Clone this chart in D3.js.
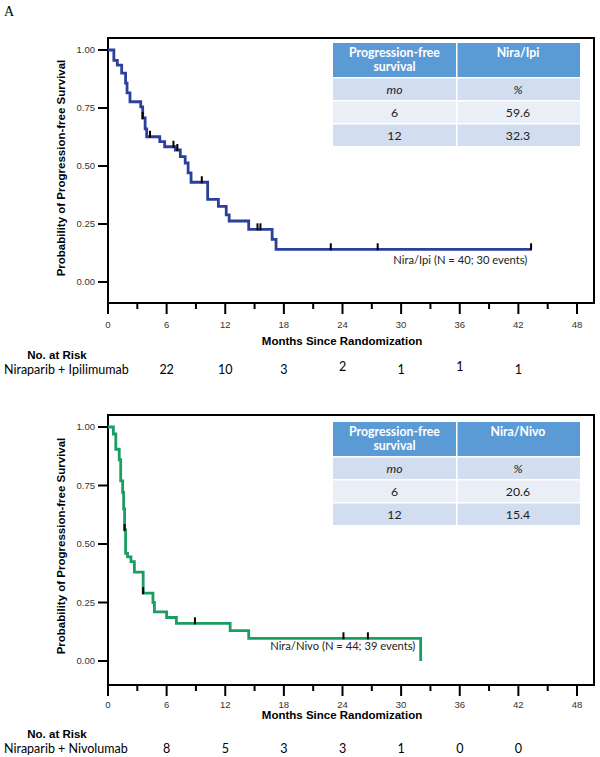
<!DOCTYPE html>
<html><head><meta charset="utf-8">
<script src="https://cdn.jsdelivr.net/npm/d3@7"></script>
<style>body{margin:0;background:#fff}svg{display:block}</style>
</head><body>
<svg id="c" width="600" height="757"></svg>
<script>
// ---------- data ----------
const xTicks = [0, 6, 12, 18, 24, 30, 36, 42, 48];
const xMinorTicks = [3, 9, 15, 21, 27, 33, 39, 45];
const yTicks = [0, 0.25, 0.5, 0.75, 1];
const atRiskMonths = [6, 12, 18, 24, 30, 36, 42];

const ipiTimes = [0, 0.6, 0.95, 1.4, 1.8, 1.95, 2.25, 3.35, 3.55, 3.8, 3.96, 5.3, 5.8, 6.9, 7.4, 7.9, 8.2, 8.5, 10.2, 11.3, 12.1, 12.4, 14.4, 16.8, 17.2];
const ipiSurv  = [1, 0.955, 0.935, 0.90, 0.857, 0.815, 0.777, 0.755, 0.707, 0.66, 0.626, 0.605, 0.583, 0.569, 0.54, 0.513, 0.47, 0.43, 0.356, 0.326, 0.289, 0.263, 0.227, 0.184, 0.141];
const ipiEnd = 43.3;
const ipiCensor = [3.55, 4.3, 6.7, 7.1, 9.6, 15.3, 15.6, 22.8, 27.6, 43.3];
const ipiAtRisk = ["22", "10", "3", "2", "1", "1", "1"];
const ipiLabel = "Nira/Ipi (N = 40; 30 events)";

const nivoTimes = [0, 0.55, 0.8, 1.15, 1.3, 1.5, 1.6, 1.7, 1.8, 2.0, 2.35, 2.7, 3.6, 4.6, 4.75, 6.0, 7.0, 12.5, 14.4, 32.0];
const nivoSurv  = [1, 0.97, 0.905, 0.86, 0.77, 0.72, 0.65, 0.56, 0.46, 0.445, 0.425, 0.38, 0.29, 0.25, 0.21, 0.186, 0.161, 0.13, 0.097, 0.0];
const nivoEnd = 32.0;
const nivoCensor = [1.7, 3.6, 8.9, 24.1, 26.6];
const nivoAtRisk = ["8", "5", "3", "3", "1", "0", "0"];
const nivoLabel = "Nira/Nivo (N = 44; 39 events)";

const tableHead = ["Progression-free|survival"];
const ipiTableHead = "Nira/Ipi";
const nivoTableHead = "Nira/Nivo";
const tableRowLabels = ["mo", "6", "12"];
const ipiTableValues = ["%", "59.6", "32.3"];
const nivoTableValues = ["%", "20.6", "15.4"];

// ---------- drawing ----------
const svg = d3.select("#c");
svg.append("text").attr("x", 4).attr("y", 16).attr("font-family", "Liberation Serif")
  .attr("font-size", 14).text("A");

function panel(o) {
  const g = svg.append("g");
  const x = d3.scaleLinear().domain([0, 48]).range([108, 577]);
  const y = d3.scaleLinear().domain([0, 1]).range([o.y0, o.y1]);
  const left = 108, right = 594, top = o.top, bottom = o.bottom;

  // frame
  g.append("rect").attr("x", left).attr("y", top).attr("width", right - left).attr("height", bottom - top)
    .attr("fill", "none").attr("stroke", "#000").attr("stroke-width", 2);

  // y axis ticks
  const yAx = g.append("g");
  yTicks.forEach(t => {
    yAx.append("line").attr("x1", 98).attr("x2", left).attr("y1", y(t)).attr("y2", y(t))
      .attr("stroke", "#000").attr("stroke-width", 2);
    yAx.append("text").attr("x", 95).attr("y", y(t) + 3).attr("text-anchor", "end")
      .attr("font-family", "Liberation Sans").attr("font-size", 9.5).attr("fill", "#333")
      .text(d3.format(".2f")(t));
  });
  // x axis ticks
  xTicks.forEach(t => {
    g.append("line").attr("x1", x(t)).attr("x2", x(t)).attr("y1", bottom).attr("y2", bottom + 11)
      .attr("stroke", "#000").attr("stroke-width", 2);
    g.append("text").attr("x", x(t)).attr("y", bottom + o.off[0]).attr("text-anchor", "middle")
      .attr("font-family", "Liberation Sans").attr("font-size", 9.5).attr("fill", "#333").text(t);
  });
  xMinorTicks.forEach(t => {
    g.append("line").attr("x1", x(t)).attr("x2", x(t)).attr("y1", bottom).attr("y2", bottom + 6)
      .attr("stroke", "#000").attr("stroke-width", 2);
  });

  // titles
  g.append("text").attr("x", 342).attr("y", bottom + o.off[1]).attr("text-anchor", "middle")
    .attr("font-family", "Liberation Sans").attr("font-weight", "bold").attr("font-size", 11.5)
    .text("Months Since Randomization");
  g.append("text").attr("transform", `translate(65,${(y(0) + y(1)) / 2 + 2}) rotate(-90)`)
    .attr("text-anchor", "middle").attr("font-family", "Liberation Sans").attr("font-weight", "bold")
    .attr("font-size", 11.5).text("Probability of Progression-free Survival");

  // at risk
  g.append("text").attr("x", 57).attr("y", bottom + o.off[2]).attr("text-anchor", "middle")
    .attr("font-family", "Liberation Sans").attr("font-weight", "bold").attr("font-size", 11.5)
    .text("No. at Risk");
  g.append("text").attr("x", 4).attr("y", bottom + o.off[3])
    .attr("font-family", "Lato").attr("font-size", 12.5).text(o.riskLabel);
  o.atRisk.forEach((v, i) => {
    g.append("text").attr("x", x(atRiskMonths[i])).attr("y", bottom + o.off[3] + (o.raise && o.raise[i] ? -3 : 0))
      .attr("text-anchor", "middle").attr("font-family", "Lato").attr("font-size", 12.5).text(v);
  });

  // KM curve
  const pts = [];
  o.times.forEach((t, i) => {
    if (i > 0) pts.push([t, o.surv[i - 1]]);
    pts.push([t, o.surv[i]]);
  });
  if (o.end > o.times[o.times.length - 1]) pts.push([o.end, o.surv[o.surv.length - 1]]);
  const line = d3.line().x(d => x(d[0])).y(d => y(d[1])).curve(d3.curveLinear);
  g.append("path").attr("d", line(pts)).attr("fill", "none").attr("stroke", o.color)
    .attr("stroke-width", 2.8).attr("stroke-linejoin", "miter");

  // censors
  const survAt = t => { let s = 1; o.times.forEach((tt, i) => { if (tt <= t) s = o.surv[i]; }); return s; };
  o.censor.forEach(t => {
    const s = survAt(t);
    g.append("line").attr("x1", x(t)).attr("x2", x(t)).attr("y1", y(s) - 6).attr("y2", y(s) + 1)
      .attr("stroke", "#000").attr("stroke-width", 2);
  });

  // label
  g.append("text").attr("x", x(o.labelPos[0])).attr("y", y(o.labelPos[1]))
    .attr("font-family", "Lato").attr("font-size", 11.2).attr("fill", "#222").text(o.label);

  // table
  const tx = 333, tmid = 456, tr = 580, ty = o.tableTop, hh = 34, rh = 23;
  const tg = g.append("g");
  tg.append("rect").attr("x", tx).attr("y", ty).attr("width", tmid - tx).attr("height", hh).attr("fill", "#5b9bd5");
  tg.append("rect").attr("x", tmid + 1.5).attr("y", ty).attr("width", tr - tmid - 1.5).attr("height", hh).attr("fill", "#5b9bd5");
  const hl = tableHead[0].split("|");
  hl.forEach((s, i) => {
    tg.append("text").attr("x", (tx + tmid) / 2).attr("y", ty + 14 + i * 14).attr("text-anchor", "middle")
      .attr("font-family", "Lato").attr("font-weight", "bold").attr("font-size", 12.3).attr("fill", "#fff").text(s);
  });
  tg.append("text").attr("x", (tmid + tr) / 2).attr("y", ty + 14).attr("text-anchor", "middle")
    .attr("font-family", "Lato").attr("font-weight", "bold").attr("font-size", 12.3).attr("fill", "#fff").text(o.tableHead);
  tableRowLabels.forEach((lab, i) => {
    const ry = ty + hh + 1.5 + i * rh;
    const fill = i % 2 === 0 ? "#d2deef" : "#eaeff7";
    tg.append("rect").attr("x", tx).attr("y", ry).attr("width", tmid - tx).attr("height", rh - 1.5).attr("fill", fill);
    tg.append("rect").attr("x", tmid + 1.5).attr("y", ry).attr("width", tr - tmid - 1.5).attr("height", rh - 1.5).attr("fill", fill);
    tg.append("text").attr("x", (tx + tmid) / 2).attr("y", ry + 15).attr("text-anchor", "middle")
      .attr("font-family", "Lato").attr("font-size", 12.3).attr("fill", "#222")
      .attr("font-style", i === 0 ? "italic" : "normal").text(lab);
    tg.append("text").attr("x", (tmid + tr) / 2).attr("y", ry + 15).attr("text-anchor", "middle")
      .attr("font-family", "Lato").attr("font-size", 12.3).attr("fill", "#222")
      .attr("font-style", i === 0 ? "italic" : "normal").text(o.tableValues[i]);
  });
}

panel({
  top: 38, bottom: 303, y0: 282, y1: 50, color: "#2b3f9c", off: [25, 42, 56, 71],
  times: ipiTimes, surv: ipiSurv, end: ipiEnd, censor: ipiCensor,
  atRisk: ipiAtRisk, raise: [0, 0, 0, 1, 0, 1, 0], riskLabel: "Niraparib + Ipilimumab",
  label: ipiLabel, labelPos: [29.2, 0.078],
  tableTop: 43, tableHead: ipiTableHead, tableValues: ipiTableValues
});
panel({
  top: 415, bottom: 685, y0: 661, y1: 427, color: "#1a9e62", off: [23, 34, 53, 68],
  times: nivoTimes, surv: nivoSurv, end: nivoEnd, censor: nivoCensor,
  atRisk: nivoAtRisk, raise: null, riskLabel: "Niraparib + Nivolumab",
  label: nivoLabel, labelPos: [16.6, 0.045],
  tableTop: 422, tableHead: nivoTableHead, tableValues: nivoTableValues
});
</script>
</body></html>
